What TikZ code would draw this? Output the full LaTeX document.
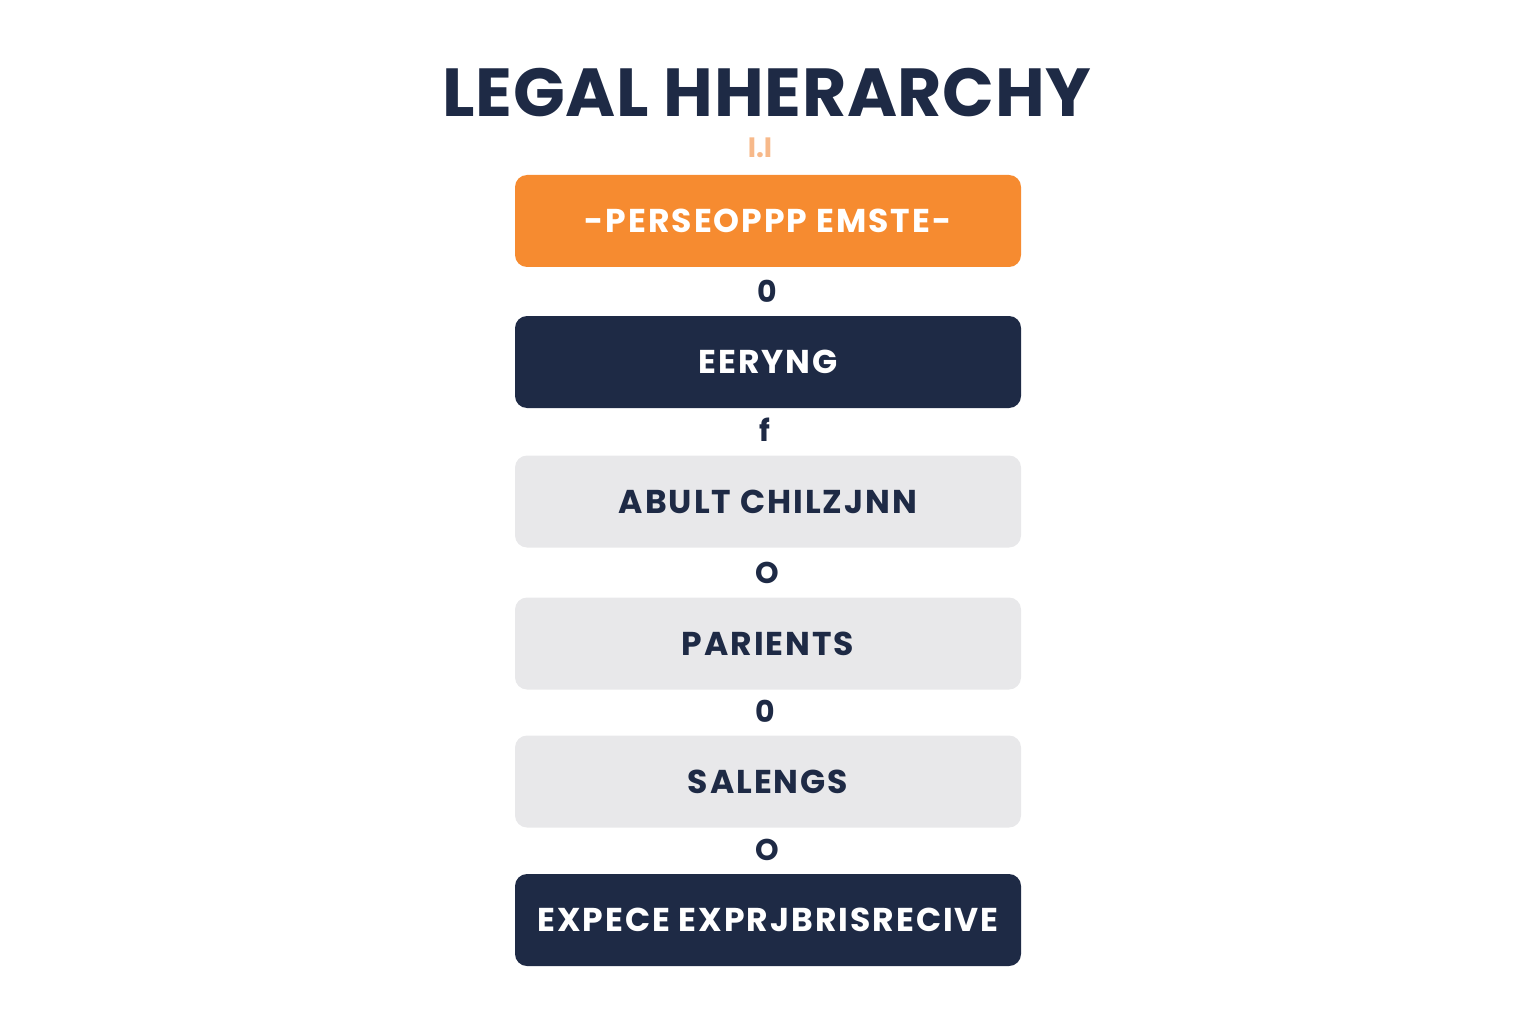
\documentclass[tikz,border=0pt]{standalone}
\usepackage{fontspec}
\setmainfont{Poppins}
\definecolor{navy}{HTML}{1E2A45}
\definecolor{orng}{HTML}{F68B30}
\definecolor{lgray}{HTML}{E8E8EA}
\definecolor{ltorng}{HTML}{F7B98A}
\begin{document}
\begin{tikzpicture}[x=1pt,y=-1pt,
  box/.style={rounded corners=12pt,minimum width=506pt,minimum height=92pt,inner sep=0pt,
    font=\fontsize{33}{33}\selectfont\bfseries\addfontfeatures{LetterSpace=6}},
  orangebox/.style={box,fill=orng,text=white},
  navybox/.style={box,fill=navy,text=white},
  graybox/.style={box,fill=lgray,text=navy},
  glyph/.style={text=navy,font=\fontsize{30}{30}\selectfont\bfseries,inner sep=0pt}]
\useasboundingbox (0,0) rectangle (1536,1024);
\node[text=navy,font=\fontsize{68}{68}\selectfont\bfseries\addfontfeatures{LetterSpace=1}] (title) at (767,93) {LEGAL HHERARCHY};
\node[text=ltorng,font=\fontsize{28}{28}\selectfont\bfseries,inner sep=0pt] (top) at (760,148) {I.I};
\node[orangebox] (b1) at (768,221) {-PERSEOPPP EMSTE-};
\node[glyph] (g1) at (767,291) {0};
\node[navybox] (b2) at (768,362) {EERYNG};
\node[glyph] (g2) at (765,430) {f};
\node[graybox] (b3) at (768,501.5) {ABULT CHILZJNN};
\node[glyph] (g3) at (767,573) {O};
\node[graybox] (b4) at (768,643.5) {PARIENTS};
\node[glyph] (g4) at (765,711) {0};
\node[graybox] (b5) at (768,781.5) {SALENGS};
\node[glyph] (g5) at (767,850) {O};
\node[navybox] (b6) at (768,920) {EXPECE EXPRJBRISRECIVE};
\end{tikzpicture}
\end{document}
